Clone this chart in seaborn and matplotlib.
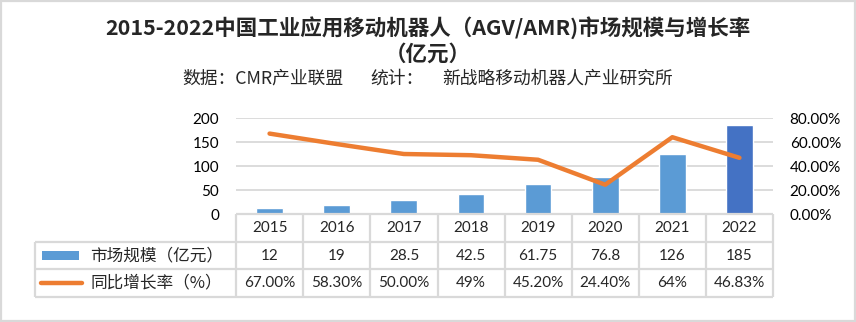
import numpy as np
import pandas as pd
import matplotlib
matplotlib.use("Agg")
import matplotlib.pyplot as plt
from matplotlib.patches import Rectangle
from matplotlib.lines import Line2D
import seaborn as sns

# Market size (100M CNY) and year-over-year growth of industrial mobile robots in China
years = ["2015", "2016", "2017", "2018", "2019", "2020", "2021", "2022"]
market_size = [12, 19, 28.5, 42.5, 61.75, 76.8, 126, 185]
growth_pct = [67.00, 58.30, 50.00, 49, 45.20, 24.40, 64, 46.83]
size_labels = ["12", "19", "28.5", "42.5", "61.75", "76.8", "126", "185"]
growth_labels = ["67.00%", "58.30%", "50.00%", "49%", "45.20%", "24.40%", "64%", "46.83%"]
series_names = ["市场规模（亿元）", "同比增长率（%）"]

title_line1 = "2015-2022中国工业应用移动机器人（AGV/AMR)市场规模与增长率"
title_line2 = "（亿元）"
source_parts = ["数据：CMR产业联盟", "统计：", "新战略移动机器人产业研究所"]

BLUE = "#5B9BD5"
DARK_BLUE = "#4472C4"
ORANGE = "#ED7D31"
GRID = "#D9D9D9"

sns.set_theme(style="white")
plt.rcParams["font.family"] = ["Lato", "Noto Sans CJK SC", "DejaVu Sans"]

W, H = 856, 322
fig = plt.figure(figsize=(W / 100, H / 100), dpi=100)
fig.patch.set_facecolor("white")

# outer frame
fig.add_artist(Rectangle((0.0015, 0.004), 0.997, 0.992, transform=fig.transFigure,
                         fill=False, edgecolor=GRID, linewidth=1.6))

def px_box(x0, y0, x1, y1):
    return [x0 / W, 1 - y1 / H, (x1 - x0) / W, (y1 - y0) / H]

ax = fig.add_axes(px_box(236, 118, 773, 214))
df = pd.DataFrame({"year": years, "size": market_size})
bar_colors = [BLUE] * (len(years) - 1) + [DARK_BLUE]
sns.barplot(data=df, x="year", y="size", hue="year", palette=bar_colors,
            legend=False, width=0.4, ax=ax, saturation=1)
ax.set_ylim(0, 200)
ax.set_yticks(np.arange(0, 201, 50))
ax.set_xlim(-0.5, len(years) - 0.5)
ax.set_xticks([])
ax.set_xlabel("")
ax.set_ylabel("")
ax.grid(axis="y", color=GRID, linewidth=1.3)
ax.set_axisbelow(True)
for s in ax.spines.values():
    s.set_visible(False)
ax.tick_params(axis="y", length=0, pad=12, labelsize=11, colors="black")

ax2 = ax.twinx()
x_pos = np.arange(len(years))
sns.lineplot(x=x_pos, y=np.array(growth_pct) / 100, ax=ax2, color=ORANGE,
             linewidth=3.2, solid_capstyle="round")
ax2.set_ylim(0, 0.8)
ax2.set_yticks(np.arange(0, 0.81, 0.2))
ax2.set_yticklabels([f"{v * 100:.2f}%" for v in np.arange(0, 0.81, 0.2)])
ax2.set_xlim(-0.5, len(years) - 0.5)
ax2.set_ylabel("")
for s in ax2.spines.values():
    s.set_visible(False)
ax2.tick_params(axis="y", length=0, pad=12, labelsize=11, colors="black")

# data table under the chart, sharing the category positions
tab = fig.add_axes(px_box(35, 214, 773, 297))
tab.set_xlim(-3.5, len(years) - 0.5)
tab.set_ylim(3, 0)
tab.axis("off")
lw = 1.6
n = len(years)
tab.plot([-0.5, n - 0.5], [0, 0], color=GRID, lw=lw, solid_capstyle="butt", clip_on=False)
for r in (1, 2, 3):
    tab.plot([-3.5, n - 0.5], [r, r], color=GRID, lw=lw, solid_capstyle="butt", clip_on=False)
for c in np.arange(-0.5, n, 1.0):
    tab.plot([c, c], [0, 3], color=GRID, lw=lw, solid_capstyle="butt", clip_on=False)
tab.plot([-3.5, -3.5], [1, 3], color=GRID, lw=lw, solid_capstyle="butt", clip_on=False)

for i in range(n):
    tab.text(i, 0.5, years[i], ha="center", va="center", fontsize=11)
    tab.text(i, 1.5, size_labels[i], ha="center", va="center", fontsize=11)
    tab.text(i, 2.5, growth_labels[i], ha="center", va="center", fontsize=11)

# legend keys inside the table
cw = 738 / 11  # pixels per table unit
def ux(px):
    return -3.5 + (px - 35) / cw
tab.add_patch(Rectangle((ux(42), 1.33), ux(79) - ux(42), 0.32, facecolor=BLUE,
                        edgecolor="none", clip_on=False))
tab.add_line(Line2D([ux(41), ux(82)], [2.5, 2.5], color=ORANGE, lw=3.2,
                    solid_capstyle="round", clip_on=False))
tab.text(ux(90), 1.5, series_names[0], ha="left", va="center", fontsize=12,
         family=["Noto Sans CJK SC"], color="#262626")
tab.text(ux(90), 2.5, series_names[1], ha="left", va="center", fontsize=12,
         family=["Noto Sans CJK SC"], color="#262626")

fig.text(0.5, 1 - 28 / H, title_line1, ha="center", va="center", fontsize=15.5,
         fontweight="bold", family=["Noto Sans CJK SC"])
fig.text(0.5, 1 - 54 / H, title_line2, ha="center", va="center", fontsize=15.5,
         fontweight="bold", family=["Noto Sans CJK SC"])
for txt, x0 in zip(source_parts, (182, 370, 442)):
    fig.text(x0 / W, 1 - 79 / H, txt, ha="left", va="center", fontsize=12.8,
             family=["Noto Sans CJK SC"])

fig.savefig("out.png", dpi=100, facecolor="white")
